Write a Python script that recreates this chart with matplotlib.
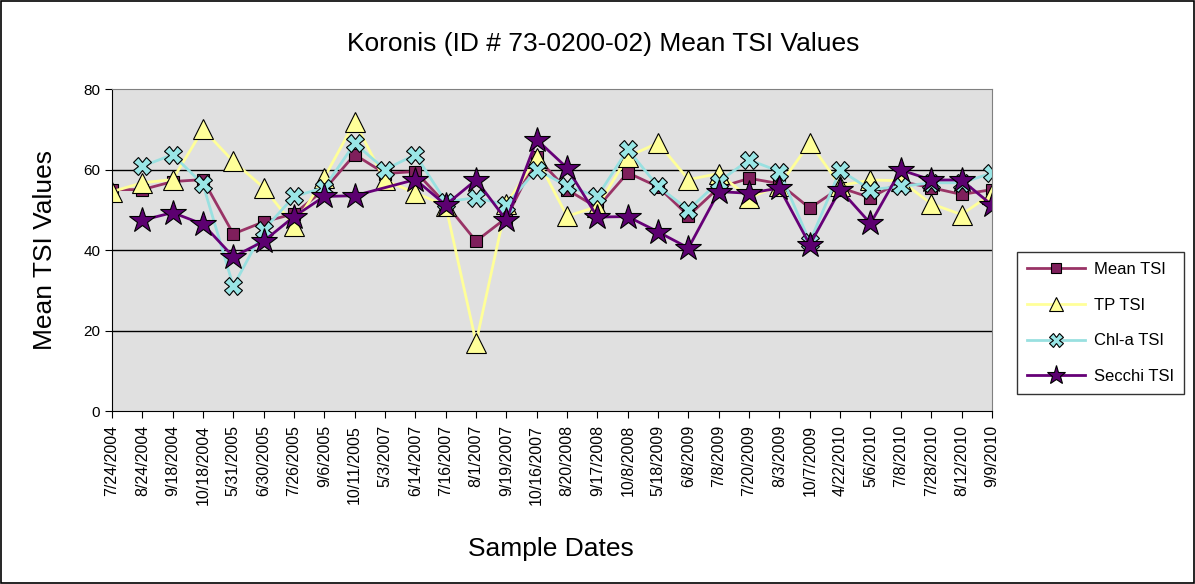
import numpy as np
import matplotlib
matplotlib.use("Agg")
import matplotlib.pyplot as plt
from matplotlib.patches import Rectangle

plt.rcParams["font.family"] = ["Liberation Sans", "DejaVu Sans"]

dates = ["7/24/2004", "8/24/2004", "9/18/2004", "10/18/2004", "5/31/2005",
         "6/30/2005", "7/26/2005", "9/6/2005", "10/11/2005", "5/3/2007",
         "6/14/2007", "7/16/2007", "8/1/2007", "9/19/2007", "10/16/2007",
         "8/20/2008", "9/17/2008", "10/8/2008", "5/18/2009", "6/8/2009",
         "7/8/2009", "7/20/2009", "8/3/2009", "10/7/2009", "4/22/2010",
         "5/6/2010", "7/8/2010", "7/28/2010", "8/12/2010", "9/9/2010"]

nan = np.nan
mean_tsi = [55, 55, 57, 57.5, 44, 47, 49, 55, 63.7, 59, 59.5, 51.5, 42.2, 48, 63,
            55, 50.5, 59.2, 55.7, 48.5, 55.5, 57.8, 56.5, 50.4, 55.5, 53, 57, 55.5, 53.8, 55]
tp_tsi = [54.5, 56.7, 57.5, 70, 62, 55.5, 46, 58, 71.8, 57.3, 54.2, 51, 17, 51.5, 62.8,
          48.4, 50.8, 63.2, 66.6, 57.5, 59, 53, 56, 66.6, 56, 57.4, 57.2, 51.5, 48.8, 54]
chla_tsi = [nan, 60.8, 63.7, 56.3, 31, 45, 53.3, 55.5, 66.5, 60, 63.7, 52, 53, 51.2, 60,
            55.9, 53.3, 65, 55.8, 50, 57, 62.4, 59.5, 42, 59.8, 55, 55.8, 56.7, 56.7, 59.1]
secchi_tsi = [nan, 47.4, 49.3, 46.4, 38.3, 42.2, 48.3, 53.3, 53.5, nan, 57.5, 51.2, 57.4, 47.4, 67.4,
              60.4, 48.2, 48.3, 44.5, 40.5, 54.5, 54.1, 55.4, 41.3, 55, 46.6, 59.9, 57.4, 57.4, 51.2]

series = [
    ("Mean TSI", mean_tsi, "#993366", "s", "#7f1f5c", 9),
    ("TP TSI", tp_tsi, "#ffff99", "^", "#ffff99", 14),
    ("Chl-a TSI", chla_tsi, "#99e0e0", "X", "#99e6e6", 12.5),
    ("Secchi TSI", secchi_tsi, "#660077", "*", "#5c0070", 19),
]

fig = plt.figure(figsize=(11.95, 5.84), dpi=100)
ax = fig.add_axes([0.0937, 0.2962, 0.7363, 0.5514])
ax.set_facecolor("#e0e0e0")

x = np.arange(len(dates))
for name, vals, lc, mk, fc, ms in series:
    v = np.array(vals, dtype=float)
    ok = ~np.isnan(v)
    # empty cells are bridged, as in the source sheet
    ax.plot(x[ok], v[ok], color=lc, lw=2, marker=mk, markersize=ms,
            markerfacecolor=fc, markeredgecolor="black", markeredgewidth=0.8,
            label=name)

ax.set_xlim(0, len(dates) - 1)
ax.set_ylim(0, 80)
ax.set_yticks([0, 20, 40, 60, 80])
for gy in [20, 40, 60]:
    ax.axhline(gy, color="black", lw=1, zorder=0.5)
ax.set_xticks(x)
ax.set_xticklabels(dates, rotation=90, fontsize=11.5)
ax.tick_params(axis="y", labelsize=11, direction="out", length=5)
ax.tick_params(axis="x", direction="out", length=5, pad=5)
for s in ["top", "right"]:
    ax.spines[s].set_color("#808080")
ax.spines["left"].set_color("black")
ax.spines["bottom"].set_color("black")

fig.text(0.505, 0.925, "Koronis (ID # 73-0200-02) Mean TSI Values",
         ha="center", va="center", fontsize=19)
fig.text(0.038, 0.572, "Mean TSI Values", rotation=90, ha="center", va="center", fontsize=19)
fig.text(0.461, 0.06, "Sample Dates", ha="center", va="center", fontsize=19)

leg = fig.legend(loc="upper left", bbox_to_anchor=(0.851, 0.569), fontsize=12,
                 frameon=True, fancybox=False, edgecolor="black", borderpad=0.6,
                 labelspacing=1.25, handlelength=3.5, handletextpad=0.5,
                 markerscale=0.75, borderaxespad=0)
leg.get_frame().set_linewidth(1)

fig.patches.append(Rectangle((0.001, 0.001), 0.998, 0.997, transform=fig.transFigure,
                             fill=False, edgecolor="black", lw=1.2))

fig.savefig("out.png", dpi=100)
